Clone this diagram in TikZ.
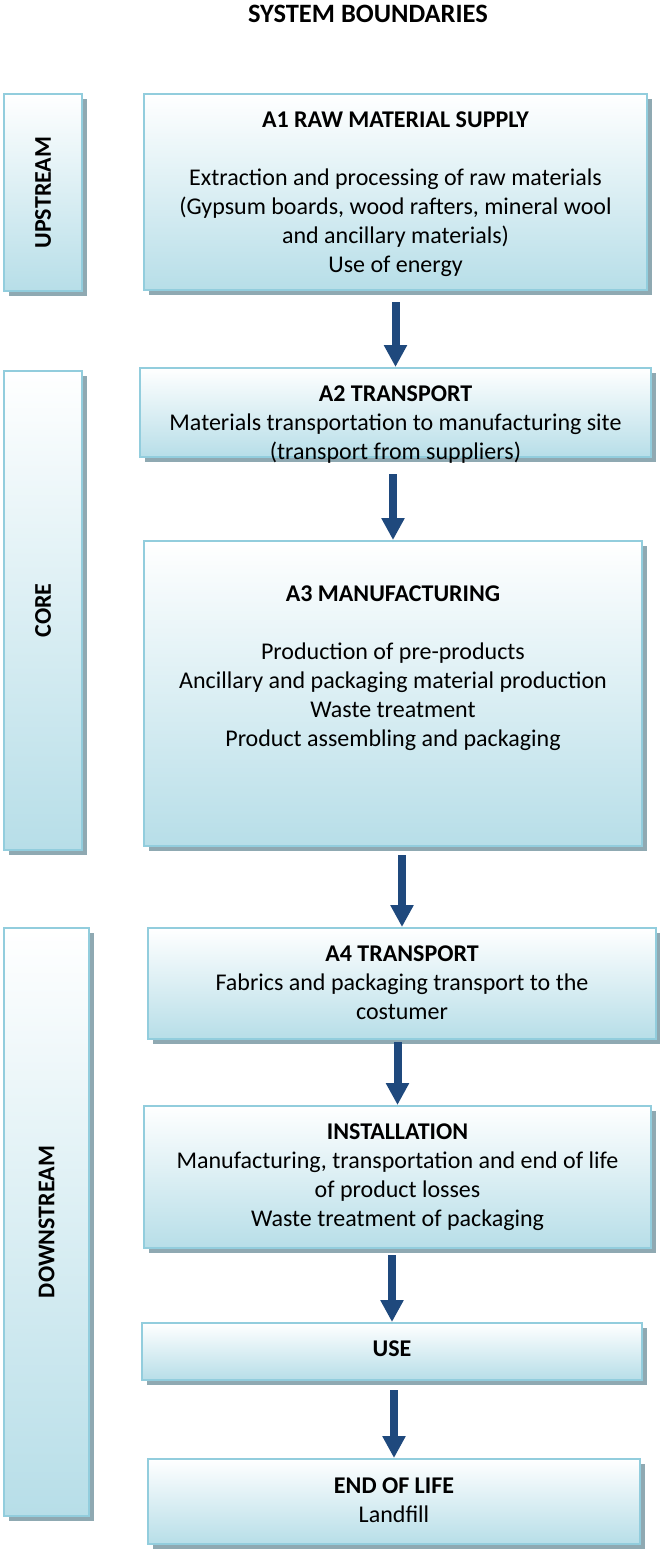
\documentclass[tikz,border=0pt]{standalone}
\usepackage{fontspec}
\setmainfont{Carlito}
\usepackage{graphicx}
\usepackage{xcolor}
\usetikzlibrary{arrows.meta,shadows,positioning}

\definecolor{edgeblue}{RGB}{146,205,221}
\definecolor{fillblue}{RGB}{183,222,232}
\definecolor{shadowgray}{RGB}{143,169,178}
\definecolor{arrowblue}{RGB}{31,73,125}

\tikzset{
  stagebox/.style={draw=edgeblue, line width=2pt, top color=white, bottom color=fillblue,
    inner sep=0pt, anchor=north west,
    drop shadow={shadow xshift=5pt, shadow yshift=-5pt, fill=shadowgray, opacity=1}},
  sidebox/.style={stagebox, font=\fontsize{24}{29}\selectfont\bfseries},
  stagetext/.style={inner sep=0pt, align=center, font=\fontsize{24}{29}\selectfont},
  flow/.style={arrowblue, line width=8pt, -{Triangle[width=22pt,length=22pt]}}
}

\begin{document}
\begin{tikzpicture}[x=1pt,y=-1pt]
            \useasboundingbox (0,0) rectangle (659,1550);
            \node[font=\fontsize{26.5}{31}\selectfont\bfseries] (title) at (368,14) {SYSTEM BOUNDARIES};

            % side boxes
            \node[sidebox, minimum width=78pt, minimum height=197pt] (up) at (3,93) {\rotatebox{90}{UPSTREAM}};
            \node[sidebox, minimum width=78pt, minimum height=479pt] (core) at (3,370) {\rotatebox{90}{CORE}};
            \node[sidebox, minimum width=85pt, minimum height=588pt] (down) at (3,927) {\rotatebox{90}{DOWNSTREAM}};

            % stages
            \node[stagebox, minimum width=503pt, minimum height=196pt] (a1) at (143,93) {};
            \node[stagebox, minimum width=511pt, minimum height=89pt] (a2) at (139,367) {};
            \node[stagebox, minimum width=498pt, minimum height=305pt] (a3) at (143,540) {};
            \node[stagebox, minimum width=508pt, minimum height=111pt] (a4) at (147,927) {};
            \node[stagebox, minimum width=507pt, minimum height=142pt] (inst) at (143,1105) {};
            \node[stagebox, minimum width=500pt, minimum height=57pt] (use) at (141,1322) {};
            \node[stagebox, minimum width=492pt, minimum height=85pt] (eol) at (147,1458) {};

            \node[stagetext, below=19pt of a1.north] (a1text) {\textbf{A1 RAW MATERIAL SUPPLY}\\[29pt]
                Extraction and processing of raw materials\\
                (Gypsum boards, wood rafters, mineral wool\\
                and ancillary materials)\\
                Use of energy};
            \node[stagetext, below=19pt of a2.north] (a2text) {\textbf{A2 TRANSPORT}\\
                Materials transportation to manufacturing site\\
                (transport from suppliers)};
            \node[stagetext, below=46pt of a3.north] (a3text) {\textbf{A3 MANUFACTURING}\\[29pt]
                Production of pre-products\\
                Ancillary and packaging material production\\
                Waste treatment\\
                Product assembling and packaging};
            \node[stagetext, below=19pt of a4.north] (a4text) {\textbf{A4 TRANSPORT}\\
                Fabrics and packaging transport to the\\
                costumer};
            \node[stagetext, below=19pt of inst.north] (insttext) {\textbf{INSTALLATION}\\
                Manufacturing, transportation and end of life\\
                of product losses\\
                Waste treatment of packaging};
            \node[stagetext, below=19pt of use.north] (usetext) {\textbf{USE}};
            \node[stagetext, below=20pt of eol.north] (eoltext) {\textbf{END OF LIFE}\\
                Landfill};

            % flow arrows
            \draw[flow] ([yshift=-11pt]a1.south) -- (a2.north);
            \draw[flow] ([yshift=-16pt]a2.south -| a3.north) -- (a3.north);
            \draw[flow] ([yshift=-8pt]a3.south -| a4.north) -- (a4.north);
            \draw[flow] ([yshift=-2pt]a4.south -| inst.north) -- (inst.north);
            \draw[flow] ([yshift=-6pt]inst.south -| use.north) -- (use.north);
            \draw[flow] ([yshift=-9pt]use.south -| eol.north) -- (eol.north);
        \end{tikzpicture}
\end{document}
